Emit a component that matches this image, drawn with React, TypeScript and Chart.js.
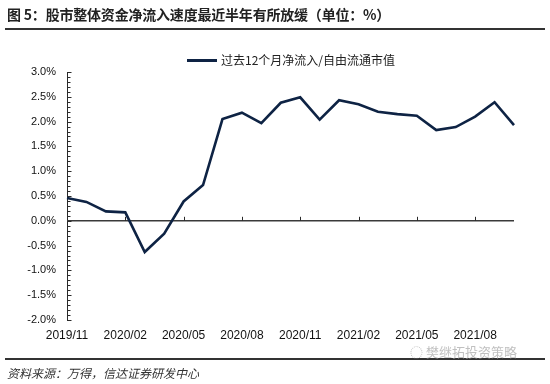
import React, { useEffect, useRef } from "react";
import { Chart, registerables } from "chart.js";

Chart.register(...registerables);

const months: string[] = [
  "2019/11", "2019/12", "2020/01", "2020/02", "2020/03", "2020/04",
  "2020/05", "2020/06", "2020/07", "2020/08", "2020/09", "2020/10",
  "2020/11", "2020/12", "2021/01", "2021/02", "2021/03", "2021/04",
  "2021/05", "2021/06", "2021/07", "2021/08", "2021/09", "2021/10",
];

const netInflowRatio: number[] = [
  0.46, 0.38, 0.19, 0.17, -0.63, -0.26,
  0.39, 0.72, 2.05, 2.18, 1.97, 2.38,
  2.49, 2.04, 2.43, 2.35, 2.2, 2.15,
  2.12, 1.83, 1.89, 2.1, 2.39, 1.93,
];

const seriesName = "过去12个月净流入/自由流通市值";
const titleText = "图 5：股市整体资金净流入速度最近半年有所放缓（单位：%）";
const sourceText = "资料来源：万得，信达证券研发中心";
const watermarkText = "樊继拓投资策略";

const yMin = -2;
const yMax = 3;
const yStep = 0.5;
const labelEvery = 3;

const LINE_COLOR = "#0e2344";
const AXIS_COLOR = "#2a2a2a";
const CJK = "'Noto Sans CJK SC', 'Noto Sans', sans-serif";
const LATIN = "'Liberation Sans', Arial, sans-serif";

const axisDecor = {
  id: "axisDecor",
  beforeDatasetsDraw(chart: any) {
    const { ctx, chartArea, scales } = chart;
    const y = scales.y;
    const x = scales.x;
    const zeroY = y.getPixelForValue(0);
    ctx.save();
    ctx.strokeStyle = "#3a3a3a";
    ctx.lineWidth = 1.5;
    ctx.beginPath();
    ctx.moveTo(chartArea.left, zeroY);
    ctx.lineTo(chartArea.right, zeroY);
    ctx.stroke();
    ctx.lineWidth = 1;
    ctx.strokeStyle = AXIS_COLOR;
    for (let i = labelEvery; i < months.length; i += labelEvery) {
      const px = Math.round(x.getPixelForValue(i)) + 0.5;
      ctx.beginPath();
      ctx.moveTo(px, zeroY);
      ctx.lineTo(px, zeroY - 4);
      ctx.stroke();
    }
    const ax = Math.round(chartArea.left) + 0.5;
    const steps = Math.round((yMax - yMin) / 0.1);
    for (let k = 0; k <= steps; k++) {
      const v = yMin + k * 0.1;
      const py = Math.round(y.getPixelForValue(v)) + 0.5;
      const major = k % 5 === 0;
      ctx.beginPath();
      ctx.moveTo(ax, py);
      ctx.lineTo(ax + (major ? 4 : 3), py);
      ctx.stroke();
    }
    ctx.restore();
  },
};

export default function App() {
  const canvasRef = useRef<HTMLCanvasElement | null>(null);

  useEffect(() => {
    if (!canvasRef.current) return;
    const chart = new Chart(canvasRef.current, {
      type: "line",
      data: {
        labels: months,
        datasets: [
          {
            label: seriesName,
            data: netInflowRatio,
            borderColor: LINE_COLOR,
            backgroundColor: LINE_COLOR,
            borderWidth: 2.6,
            pointRadius: 0,
            tension: 0,
          },
        ],
      },
      options: {
        animation: false,
        responsive: false,
        maintainAspectRatio: false,
        layout: { padding: { top: 72, left: 0, right: 36, bottom: 0 } },
        plugins: {
          legend: { display: false },
          tooltip: { enabled: false },
        },
        scales: {
          x: {
            type: "category",
            offset: false,
            grid: { display: false, drawTicks: false },
            border: { display: false },
            ticks: {
              autoSkip: false,
              maxRotation: 0,
              padding: 8,
              color: "#111",
              font: { family: LATIN, size: 12 },
              callback: (_v: any, i: number) => (i % labelEvery === 0 ? months[i] : ""),
            },
            afterFit: (s: any) => {
              s.height = 64;
            },
          },
          y: {
            min: yMin,
            max: yMax,
            grid: { display: false, drawTicks: false },
            border: { display: true, color: AXIS_COLOR, width: 1 },
            ticks: {
              stepSize: yStep,
              padding: 11,
              color: "#111",
              font: { family: LATIN, size: 11 },
              callback: (v: any) => Number(v).toFixed(1) + "%",
            },
            afterFit: (s: any) => {
              s.width = 67;
            },
          },
        },
      },
      plugins: [axisDecor],
    });
    return () => chart.destroy();
  }, []);

  return (
    <div style={{ position: "absolute", left: 0, top: 0, width: 550, height: 384, background: "#fff", overflow: "hidden" }}>
      <canvas ref={canvasRef} width={550} height={384} style={{ position: "absolute", left: 0, top: 0, width: 550, height: 384 }} />
      <div style={{ position: "absolute", left: 7, top: 4, fontFamily: CJK, fontWeight: 700, fontSize: 14, color: "#222", whiteSpace: "nowrap", lineHeight: "20px", letterSpacing: -0.2 }}>
        {titleText}
      </div>
      <div style={{ position: "absolute", left: 5, top: 28, width: 540, height: 2, background: "#333" }} />
      <div style={{ position: "absolute", left: 187, top: 52, display: "flex", alignItems: "center", whiteSpace: "nowrap" }}>
        <div style={{ width: 30, height: 3, background: LINE_COLOR }} />
        <span style={{ marginLeft: 4, fontFamily: CJK, fontSize: 12, color: "#222", lineHeight: "16px" }}>{seriesName}</span>
      </div>
      <div style={{ position: "absolute", left: 5, top: 358, width: 540, height: 2, background: "#333" }} />
      <div style={{ position: "absolute", left: 410, top: 343, fontFamily: CJK, fontSize: 13, color: "rgba(150,150,150,0.6)", whiteSpace: "nowrap", lineHeight: "18px" }}>
        ◌ {watermarkText}
      </div>
      <div style={{ position: "absolute", left: 7, top: 364, fontFamily: CJK, fontStyle: "italic", fontSize: 12, color: "#333", whiteSpace: "nowrap", lineHeight: "17px" }}>
        {sourceText}
      </div>
    </div>
  );
}
